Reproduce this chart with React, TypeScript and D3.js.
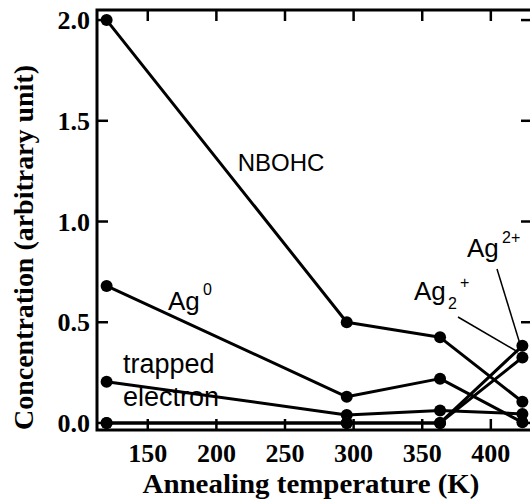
import React from "react";
import * as d3 from "d3";

const temperatures = [120, 295, 363, 423];
const nbohc = [2.0, 0.5, 0.425, 0.105];
const ag0 = [0.68, 0.13, 0.22, 0.003];
const trappedElectron = [0.205, 0.04, 0.062, 0.045];
const ag2plus = [0, 0, 0, 0.383];
const ag2dimerPlus = [0, 0, 0, 0.325];
const xTicks = [150, 200, 250, 300, 350, 400];
const yTicks = [0, 0.5, 1.0, 1.5, 2.0];

const seriesList = [nbohc, ag0, trappedElectron, ag2dimerPlus, ag2plus];

const W = 530;
const H = 502;
const L = 97, R = 532, T = 10, B = 430;

export default function App() {
  const x = d3.scaleLinear().domain([113, 430]).range([L, R]);
  const y = d3.scaleLinear().domain([-0.035, 2.05]).range([B, T]);
  const line = d3
    .line<[number, number]>()
    .x((d) => x(d[0]))
    .y((d) => y(d[1]));

  const serif = "'Liberation Serif', 'Times New Roman', serif";
  const sans = "'Liberation Sans', Arial, Helvetica, sans-serif";
  const tickLen = 11;

  return (
    <svg
      width={W}
      height={H}
      style={{ position: "absolute", left: 0, top: 0, background: "#fff" }}
    >
      <rect x={0} y={0} width={W} height={H} fill="#fff" />
      {/* series lines */}
      {seriesList.map((s, i) => (
        <path
          key={"l" + i}
          d={line(temperatures.map((t, j) => [t, s[j]]) as [number, number][]) || ""}
          fill="none"
          stroke="#000"
          strokeWidth={3}
          strokeLinejoin="round"
        />
      ))}
      {seriesList.map((s, i) =>
        temperatures.map((t, j) => (
          <circle key={"c" + i + "-" + j} cx={x(t)} cy={y(s[j])} r={6} fill="#000" />
        ))
      )}

      {/* frame */}
      <rect x={L} y={T} width={R - L} height={B - T} fill="none" stroke="#000" strokeWidth={3} />
      {/* x ticks */}
      {xTicks.map((t) => (
        <g key={"xt" + t}>
          <line x1={x(t)} x2={x(t)} y1={B} y2={B - tickLen} stroke="#000" strokeWidth={2.5} />
          <line x1={x(t)} x2={x(t)} y1={T} y2={T + tickLen} stroke="#000" strokeWidth={2.5} />
          <text
            x={x(t)}
            y={462}
            textAnchor="middle"
            fontFamily={serif}
            fontWeight="bold"
            fontSize={26}
          >
            {t}
          </text>
        </g>
      ))}
      {/* y ticks */}
      {yTicks.map((t) => (
        <g key={"yt" + t}>
          <line x1={L} x2={L + tickLen} y1={y(t)} y2={y(t)} stroke="#000" strokeWidth={2.5} />
          <line x1={R} x2={R - tickLen} y1={y(t)} y2={y(t)} stroke="#000" strokeWidth={2.5} />
          <text
            x={90}
            y={y(t)}
            dy="0.35em"
            textAnchor="end"
            fontFamily={serif}
            fontWeight="bold"
            fontSize={26}
          >
            {t.toFixed(1)}
          </text>
        </g>
      ))}

      {/* axis titles */}
      <text
        x={311}
        y={493}
        textAnchor="middle"
        fontFamily={serif}
        fontWeight="bold"
        fontSize={27}
        textLength={337}
        lengthAdjust="spacingAndGlyphs"
      >
        Annealing temperature (K)
      </text>
      <text
        transform="translate(33,247.5) rotate(-90)"
        textAnchor="middle"
        fontFamily={serif}
        fontWeight="bold"
        fontSize={27}
        textLength={365}
        lengthAdjust="spacingAndGlyphs"
      >
        Concentration (arbitrary unit)
      </text>

      {/* annotations */}
      <g fontFamily={sans} fill="#000">
        <text x={281} y={171} fontSize={24} textAnchor="middle">NBOHC</text>
        <text x={168} y={310} fontSize={26}>Ag</text>
        <text x={203} y={295} fontSize={16}>0</text>
        <text x={123} y={373} fontSize={27}>trapped</text>
        <text x={123} y={406} fontSize={27}>electron</text>
        <text x={414} y={300} fontSize={26}>Ag</text>
        <text x={448} y={309} fontSize={16}>2</text>
        <text x={460} y={288} fontSize={16}>+</text>
        <text x={467} y={257} fontSize={26}>Ag</text>
        <text x={502} y={243} fontSize={16}>2+</text>
      </g>
      <line x1={497} y1={269} x2={520} y2={344} stroke="#000" strokeWidth={1.5} />
      <line x1={458} y1={317} x2={518} y2={352} stroke="#000" strokeWidth={1.5} />
    </svg>
  );
}
